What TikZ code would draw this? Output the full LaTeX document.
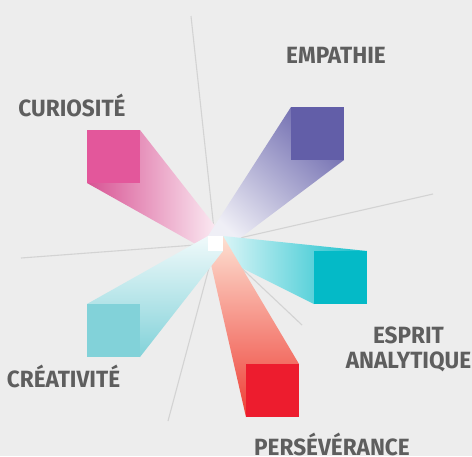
\documentclass[tikz,border=0pt]{standalone}
\usepackage{fontspec}
\setmainfont{Fira Sans}[FakeStretch=0.96]
\definecolor{bg}{HTML}{EDEDED}
\definecolor{ray}{HTML}{D3D3D3}
\definecolor{txt}{HTML}{5E5E5E}
\definecolor{cpink}{HTML}{E3579B}
\definecolor{cpurple}{HTML}{625EA8}
\definecolor{cteal}{HTML}{04BAC7}
\definecolor{cred}{HTML}{ED1C2E}
\definecolor{clteal}{HTML}{82D2D9}
\definecolor{redtop}{HTML}{FDE0D2}
\definecolor{redbot}{HTML}{EE3E35}
\begin{document}
\begin{tikzpicture}[x=1pt,y=-1pt,
  rayline/.style={draw=ray,line width=1.1pt},
  bigsq/.style={minimum size=53pt,inner sep=0pt,outer sep=0pt,anchor=north west},
  lbl/.style={text=txt,font=\fontsize{23.5}{25}\selectfont\bfseries,inner sep=0pt,align=center}]
\fill[bg] (0,0) rectangle (472,456);
\useasboundingbox (0,0) rectangle (472,456);
% center
\coordinate (c) at (215.5,243.5);
\coordinate (tl) at (208,236);
\coordinate (tr) at (223,236);
\coordinate (bl) at (208,251);
\coordinate (br) at (223,251);
% rays
\coordinate (r1) at (191,16);
\coordinate (r2) at (433,194);
\coordinate (r3) at (21,258);
\coordinate (r4) at (168,421);
\coordinate (r5) at (302,325);
\foreach \r in {r1,r2,r3,r4,r5} \draw[rayline] (c) -- (\r);
% big squares corners
\coordinate (p1) at (87,130);  \coordinate (p2) at (140,183);
\coordinate (u1) at (291,107); \coordinate (u2) at (344,160);
\coordinate (t1) at (314,251); \coordinate (t2) at (367,304);
\coordinate (e1) at (246,364); \coordinate (e2) at (299,417);
\coordinate (l1) at (87,304);  \coordinate (l2) at (140,357);
% beams
\shade[left color=cpink!95!black, right color=cpink!8!white]
  (p1 |- p2) -- (p2 |- p1) -- (tr) -- (bl) -- cycle;
\shade[top color=cpurple!92!white, bottom color=cpurple!10!white, shading angle=-43]
  (u1) -- (tl) -- (br) -- (u2) -- cycle;
\shade[left color=cteal!7!white, right color=cteal!95!white]
  (t2 |- t1) -- (tr) -- (bl) -- (t1 |- t2) -- cycle;
\shade[top color=redtop, bottom color=redbot]
  (e2 |- e1) -- (tr) -- (bl) -- (e1 |- e2) -- cycle;
\shade[top color=clteal!12!white, bottom color=clteal]
  (l1) -- (tl) -- (br) -- (l2) -- cycle;
% squares
\node[bigsq,fill=cpink] (sq1) at (p1) {};
\node[bigsq,fill=cpurple] (sq2) at (u1) {};
\node[bigsq,fill=cteal] (sq3) at (t1) {};
\node[bigsq,fill=cred] (sq4) at (e1) {};
\node[bigsq,fill=clteal] (sq5) at (l1) {};
\node[fill=white,minimum size=15pt,inner sep=0pt] (ctr) at (c) {};
% labels
\node[lbl,anchor=base] (n1) at (336,63) {EMPATHIE};
\node[lbl,anchor=base] (n2) at (72,116) {CURIOSITÉ};
\node[lbl,anchor=base] (n3) at (63.5,387) {CRÉATIVITÉ};
\node[lbl,anchor=base] (n4) at (408.5,343) {ESPRIT};
\node[lbl,anchor=base] (n5) at (408.5,368) {ANALYTIQUE};
\node[lbl,anchor=base] (n6) at (332,455.5) {PERSÉVÉRANCE};
\end{tikzpicture}
\end{document}
